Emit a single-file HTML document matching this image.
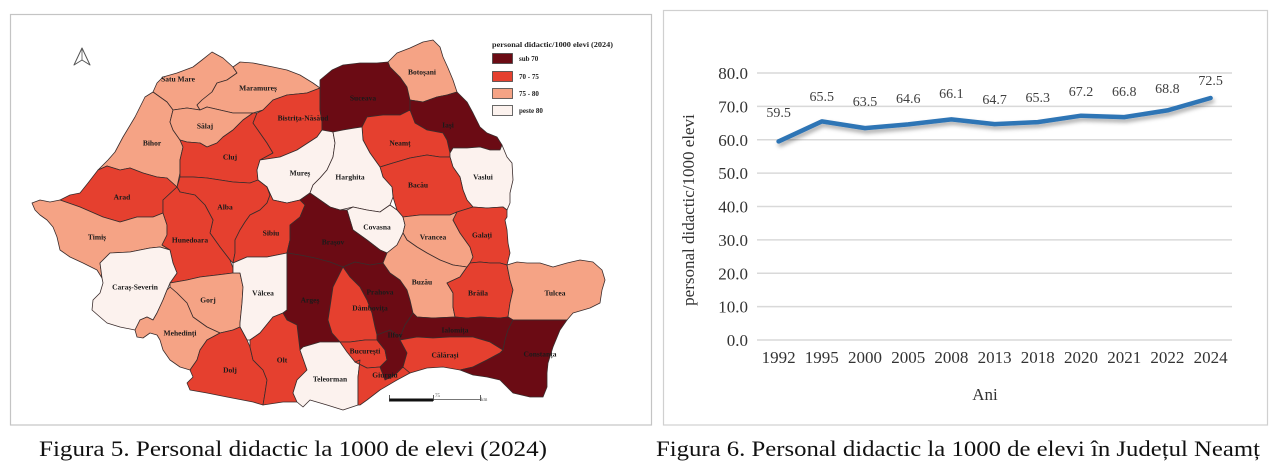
<!DOCTYPE html>
<html>
<head>
<meta charset="utf-8">
<style>
html,body{margin:0;padding:0;background:#fff;}
body{width:1280px;height:473px;overflow:hidden;}
svg{display:block;}
.m path,.m polygon{stroke:#3a2c2c;stroke-width:0.8;stroke-linejoin:round;}
.dk{fill:#6b0b14;}
.rd{fill:#e5402f;}
.sa{fill:#f5a385;}
.wh{fill:#fcf2ee;}
.lb{font-family:"Liberation Serif",serif;font-weight:bold;font-size:7.5px;fill:#1a1a1a;text-anchor:middle;}
.lg{font-family:"Liberation Serif",serif;font-weight:bold;font-size:7px;fill:#222;}
.ax{font-family:"Liberation Serif",serif;font-size:17px;fill:#333;}
.dl{font-family:"Liberation Serif",serif;font-size:14px;fill:#404040;text-anchor:middle;}
.cap{font-family:"Liberation Serif",serif;font-size:22px;fill:#111;}
</style>
</head>
<body>
<svg width="1280" height="473" viewBox="0 0 1280 473" xmlns="http://www.w3.org/2000/svg">
<defs>
<filter id="sh" x="-5%" y="-40%" width="110%" height="200%">
<feDropShadow dx="1.5" dy="3" stdDeviation="2" flood-color="#000" flood-opacity="0.35"/>
</filter>
</defs>
<rect x="0" y="0" width="1280" height="473" fill="#fff"/>

<!-- MAP FRAME -->
<rect x="10.5" y="14.5" width="641" height="410.5" fill="#fff" stroke="#c4c4c4" stroke-width="1.2"/>

<g class="m">
<polygon class="sa" points="153,92 157,83 163,77 177,73 193,67 202,60 212,52 223,58 233,67 237,73 227,80 217,83 212,92 202,100 197,105 200,110 187,108 173,110 167,102"/>
<polygon class="sa" points="233,67 240,62 253,63 273,67 287,70 300,75 313,83 320,88 307,93 287,95 273,100 263,110 253,113 247,113 233,113 220,110 207,107 200,110 197,105 202,100 212,92 217,83 227,80 237,73"/>
<polygon class="sa" points="153,92 167,102 173,110 170,122 173,130 180,140 183,147 180,160 180,173 177,187 167,178 157,177 143,173 130,168 120,170 107,166 98,170 108,160 115,152 123,137 135,117 145,97"/>
<polygon class="sa" points="173,110 187,108 200,110 207,107 220,110 233,113 247,113 253,113 243,120 233,130 223,137 217,143 207,147 200,143 187,142 180,140 173,130 170,122"/>
<polygon class="rd" points="180,140 187,142 200,143 207,147 217,143 223,137 233,130 243,120 253,113 257,113 253,123 260,133 267,143 273,153 260,160 257,170 258,180 250,183 233,182 220,180 207,178 193,177 180,177 180,173 180,160 183,147"/>
<polygon class="rd" points="257,113 263,110 273,100 287,95 307,93 320,88 320,100 320,110 322,122 322,130 317,137 297,150 280,157 260,160 273,153 267,143 260,133 253,123"/>
<polygon class="dk" points="320,80 332,70 343,65 360,63 377,63 388,62 390,67 400,77 407,87 410,100 410,110 400,115 383,115 367,117 362,127 355,128 343,130 333,132 322,130 322,122 320,110 320,100 320,88"/>
<polygon class="sa" points="388,62 397,53 410,48 423,42 433,40 440,47 443,57 448,68 453,80 457,92 447,95 437,97 423,102 410,100 407,87 400,77 390,67"/>
<polygon class="dk" points="410,100 423,102 437,97 447,95 457,92 467,102 473,113 480,127 487,133 497,137 502,145 500,150 490,150 480,147 467,148 453,148 450,153 447,140 443,133 427,130 415,123 410,110"/>
<polygon class="rd" points="367,117 383,115 400,115 410,110 415,123 427,130 443,133 447,140 450,153 450,157 440,157 427,155 410,158 393,163 380,167 370,153 363,140 362,127"/>
<polygon class="wh" points="450,153 453,148 467,148 480,147 490,150 500,150 502,145 507,157 512,163 513,180 510,193 510,203 507,210 503,207 487,208 473,207 467,200 463,190 460,177 453,167 450,157"/>
<polygon class="rd" points="380,167 393,163 410,158 427,155 440,157 450,157 453,167 460,177 463,190 467,200 473,207 457,212 450,215 435,215 420,215 403,217 397,210 393,197 392,187 383,177"/>
<polygon class="wh" points="260,160 280,157 297,150 317,137 322,130 333,132 335,143 333,157 327,170 320,178 313,185 310,193 300,200 287,203 273,200 267,187 258,180 257,170"/>
<polygon class="wh" points="333,132 343,130 355,128 362,127 363,140 370,153 380,167 383,177 392,187 393,197 390,205 380,212 367,210 353,207 340,210 330,207 320,200 310,193 313,185 320,178 327,170 333,157 335,143"/>
<polygon class="wh" points="347,210 353,207 367,210 380,212 390,205 397,210 403,217 405,225 403,233 397,245 387,253 380,250 367,240 353,230 350,220"/>
<polygon class="rd" points="60,200 70,195 80,193 88,183 98,170 107,166 120,170 130,168 143,173 157,177 167,178 177,187 163,200 163,213 153,217 137,217 120,222 103,217 80,207"/>
<polygon class="rd" points="177,187 180,177 193,177 207,178 220,180 233,182 250,183 258,180 267,187 270,195 267,203 260,210 250,215 245,222 240,230 235,240 235,253 233,263 230,260 220,247 210,233 213,220 205,205 195,195 180,192"/>
<polygon class="sa" points="32,203 40,200 50,202 60,200 80,207 103,217 120,222 137,217 153,217 163,213 167,225 167,235 162,245 170,250 160,247 150,248 130,252 110,253 100,263 102,278 97,270 83,263 70,257 60,250 57,237 53,227 47,220 40,215 35,210"/>
<polygon class="rd" points="163,200 177,187 180,192 195,195 205,205 213,220 210,233 220,247 230,260 233,268 233,273 217,275 200,277 187,280 170,283 177,273 173,263 170,250 162,245 167,235 167,225 163,213"/>
<polygon class="rd" points="267,187 273,200 287,203 300,200 305,205 300,217 290,225 290,240 287,253 267,257 247,257 233,263 235,253 235,240 240,230 245,222 250,215 260,210 267,203 270,195"/>
<polygon class="dk" points="300,200 310,193 320,200 330,207 340,210 347,210 350,220 353,230 367,240 380,250 387,253 383,263 370,265 355,262 343,267 330,262 315,258 300,255 287,253 290,240 290,225 300,217 305,205"/>
<polygon class="sa" points="403,217 420,215 435,215 450,215 457,212 453,220 460,233 470,247 473,257 470,263 467,267 453,265 440,260 427,253 417,247 407,240 403,233 405,225"/>
<polygon class="rd" points="457,212 473,207 487,208 503,207 507,210 507,217 505,220 507,230 508,243 510,253 507,265 500,263 490,263 480,262 470,263 473,257 470,247 460,233 453,220"/>
<polygon class="wh" points="102,278 100,263 110,253 130,252 150,248 160,247 170,250 173,263 177,273 170,283 167,290 163,300 157,313 153,320 147,317 140,320 135,330 120,327 107,323 100,317 92,310 93,300 100,293 103,283"/>
<polygon class="sa" points="170,283 187,280 200,277 217,275 233,273 240,273 243,287 242,303 240,323 240,327 233,330 220,333 207,327 193,317 187,303 177,293 170,287"/>
<polygon class="wh" points="233,263 247,257 267,257 287,253 287,287 287,310 283,313 273,317 260,333 250,340 247,340 240,327 240,323 242,303 243,287 240,273 233,273 233,268"/>
<polygon class="dk" points="287,253 300,255 315,258 330,262 343,267 333,287 330,307 328,320 332,333 340,342 337,342 320,342 303,347 300,350 297,325 287,320 283,313 287,310 287,287"/>
<polygon class="dk" points="343,267 355,262 370,265 383,263 390,273 400,280 407,290 410,300 413,313 405,325 400,337 390,330 377,335 375,327 372,313 367,300 360,287 350,277"/>
<polygon class="rd" points="343,267 350,277 360,287 367,300 372,313 375,327 377,335 377,340 365,340 350,342 340,342 332,333 328,320 330,307 333,287"/>
<polygon class="sa" points="387,253 397,245 403,233 407,240 417,247 427,253 440,260 453,265 467,267 460,277 447,283 453,293 453,307 455,317 433,318 417,317 413,313 410,300 407,290 400,280 390,273 383,263"/>
<polygon class="rd" points="467,267 470,263 480,262 490,263 500,263 507,265 510,280 513,290 510,303 508,317 500,318 480,317 467,318 455,317 453,307 453,293 447,283 460,277"/>
<polygon class="sa" points="507,265 517,262 527,263 540,263 553,267 567,263 580,260 593,262 602,270 605,280 602,290 600,303 590,308 573,313 567,320 553,320 540,320 527,320 513,320 508,317 510,303 513,290 510,280"/>
<polygon class="sa" points="167,290 170,287 177,293 187,303 193,317 207,327 220,333 207,340 200,350 197,360 190,370 180,367 170,360 163,350 160,340 157,335 150,333 143,338 137,337 135,330 140,320 147,317 153,320 157,313 163,300"/>
<polygon class="rd" points="207,340 220,333 233,330 240,327 247,340 250,347 253,360 263,370 267,380 265,393 263,405 253,402 227,397 207,393 190,390 187,383 193,377 190,370 197,360 200,350"/>
<polygon class="rd" points="250,340 260,333 273,317 283,313 287,320 297,325 300,350 307,370 297,380 293,393 297,402 283,402 263,405 265,393 267,380 263,370 253,360 250,347"/>
<polygon class="wh" points="303,347 320,342 337,342 340,342 347,345 350,350 360,360 358,377 358,405 343,410 327,405 310,400 303,407 297,402 293,393 297,380 307,370 300,350"/>
<polygon class="rd" points="340,342 350,342 365,340 377,340 385,350 387,360 380,367 367,368 355,362 347,352"/>
<polygon class="dk" points="377,335 390,330 400,337 407,353 403,367 395,375 385,380 380,367 387,360 385,350 377,340"/>
<polygon class="rd" points="355,362 367,368 380,367 385,380 395,375 403,367 410,373 397,380 380,390 367,400 360,405 358,405 358,377 360,360"/>
<polygon class="dk" points="413,313 417,317 433,318 455,317 467,318 480,317 500,318 508,317 513,320 508,330 505,340 503,350 490,342 473,337 450,337 433,338 417,337 400,340 400,337 405,325"/>
<polygon class="rd" points="400,340 417,337 433,338 450,337 473,337 490,342 503,350 500,353 487,360 473,367 460,370 443,367 427,368 410,373 403,367 407,353"/>
<polygon class="dk" points="513,320 527,320 540,320 553,320 567,320 560,330 553,347 548,363 547,373 547,387 543,397 530,397 513,393 507,387 500,380 487,377 473,375 460,370 473,367 487,360 500,353 503,350 505,340 508,330"/>
</g>

<!-- county labels -->
<g class="lb">
<text x="178" y="81.5">Satu Mare</text>
<text x="258" y="90.5">Maramureș</text>
<text x="205" y="128.5">Sălaj</text>
<text x="152" y="145.5">Bihor</text>
<text x="230" y="159.5">Cluj</text>
<text x="303" y="120.5">Bistrița-Năsăud</text>
<text x="300" y="175.5">Mureș</text>
<text x="122" y="199.5">Arad</text>
<text x="225" y="209.5">Alba</text>
<text x="422" y="74.5">Botoșani</text>
<text x="363" y="100.5">Suceava</text>
<text x="448" y="127.5">Iași</text>
<text x="400" y="145.5">Neamț</text>
<text x="350" y="179.5">Harghita</text>
<text x="418" y="187.5">Bacău</text>
<text x="483" y="179.5">Vaslui</text>
<text x="377" y="229.5">Covasna</text>
<text x="97" y="239.5">Timiș</text>
<text x="190" y="242.5">Hunedoara</text>
<text x="271" y="235.5">Sibiu</text>
<text x="135" y="289.5">Caraș-Severin</text>
<text x="208" y="302.5">Gorj</text>
<text x="263" y="295.5">Vâlcea</text>
<text x="310" y="302.5">Argeș</text>
<text x="180" y="335.5">Mehedinți</text>
<text x="230" y="372.5">Dolj</text>
<text x="282" y="362.5">Olt</text>
<text x="333" y="244.5">Brașov</text>
<text x="433" y="239.5">Vrancea</text>
<text x="482" y="237.5">Galați</text>
<text x="422" y="284.5">Buzău</text>
<text x="478" y="295.5">Brăila</text>
<text x="555" y="295.5">Tulcea</text>
<text x="380" y="294.5">Prahova</text>
<text x="370" y="310.5">Dâmbovița</text>
<text x="395" y="337.5">Ilfov</text>
<text x="455" y="332.5">Ialomița</text>
<text x="365" y="353.5">București</text>
<text x="445" y="357.5">Călărași</text>
<text x="540" y="356.5">Constanța</text>
<text x="330" y="381.5">Teleorman</text>
<text x="385" y="377.5">Giurgiu</text>
</g>

<!-- north arrow -->
<polygon points="82,48 90,65 82,60 74,65" fill="#fff" stroke="#555" stroke-width="1" stroke-linejoin="round"/>
<line x1="82" y1="49" x2="82" y2="60" stroke="#555" stroke-width="0.8"/>

<!-- legend -->
<text class="lg" x="492" y="47" textLength="121" lengthAdjust="spacingAndGlyphs">personal didactic/1000 elevi (2024)</text>
<rect x="492.5" y="53.5" width="20" height="10" fill="#6b0b14" stroke="#444" stroke-width="0.8"/>
<rect x="492.5" y="71.5" width="20" height="10" fill="#e5402f" stroke="#444" stroke-width="0.8"/>
<rect x="492.5" y="88.5" width="20" height="10" fill="#f5a385" stroke="#444" stroke-width="0.8"/>
<rect x="492.5" y="105.5" width="20" height="10" fill="#fcf2ee" stroke="#444" stroke-width="0.8"/>
<text class="lg" x="519" y="61">sub 70</text>
<text class="lg" x="519" y="79">70 - 75</text>
<text class="lg" x="519" y="96">75 - 80</text>
<text class="lg" x="519" y="113">peste 80</text>

<!-- scale bar -->
<rect x="389" y="398.5" width="44" height="3" fill="#111"/>
<line x1="433" y1="399.5" x2="480" y2="399.5" stroke="#777" stroke-width="1"/>
<line x1="389.5" y1="395" x2="389.5" y2="401" stroke="#333" stroke-width="0.8"/>
<line x1="433.5" y1="395" x2="433.5" y2="401" stroke="#333" stroke-width="0.8"/>
<line x1="480.5" y1="395" x2="480.5" y2="401" stroke="#333" stroke-width="0.8"/>
<text x="435" y="397" font-family="Liberation Serif, serif" font-size="5" fill="#555">75</text>
<text x="481" y="401" font-family="Liberation Serif, serif" font-size="5" fill="#555">km</text>

<!-- CHART FRAME -->
<rect x="663.5" y="10.5" width="604" height="414.5" fill="#fff" stroke="#d0d0d0" stroke-width="1.2"/>

<!-- gridlines -->
<g stroke="#d9d9d9" stroke-width="1.5">
<line x1="757" y1="73" x2="1232" y2="73"/>
<line x1="757" y1="106.4" x2="1232" y2="106.4"/>
<line x1="757" y1="139.8" x2="1232" y2="139.8"/>
<line x1="757" y1="173.1" x2="1232" y2="173.1"/>
<line x1="757" y1="206.5" x2="1232" y2="206.5"/>
<line x1="757" y1="239.9" x2="1232" y2="239.9"/>
<line x1="757" y1="273.3" x2="1232" y2="273.3"/>
<line x1="757" y1="306.6" x2="1232" y2="306.6"/>
<line x1="757" y1="340" x2="1232" y2="340"/>
</g>

<!-- y labels -->
<g class="ax" text-anchor="end">
<text x="748" y="79">80.0</text>
<text x="748" y="112.4">70.0</text>
<text x="748" y="145.8">60.0</text>
<text x="748" y="179.1">50.0</text>
<text x="748" y="212.5">40.0</text>
<text x="748" y="245.9">30.0</text>
<text x="748" y="279.3">20.0</text>
<text x="748" y="312.6">10.0</text>
<text x="748" y="346">0.0</text>
</g>

<!-- x labels -->
<g class="ax" text-anchor="middle">
<text x="778.6" y="363">1992</text>
<text x="821.8" y="363">1995</text>
<text x="865" y="363">2000</text>
<text x="908.2" y="363">2005</text>
<text x="951.4" y="363">2008</text>
<text x="994.6" y="363">2013</text>
<text x="1037.8" y="363">2018</text>
<text x="1081" y="363">2020</text>
<text x="1124.2" y="363">2021</text>
<text x="1167.4" y="363">2022</text>
<text x="1210.6" y="363">2024</text>
</g>

<!-- axis titles -->
<text class="ax" x="985" y="400" text-anchor="middle">Ani</text>
<text class="ax" transform="translate(694,210) rotate(-90)" text-anchor="middle">personal didactic/1000 elevi</text>

<!-- line -->
<polyline filter="url(#sh)" fill="none" stroke="#2f74b5" stroke-width="4.5" stroke-linejoin="round" stroke-linecap="round"
points="778.6,141.4 821.8,121.4 865,128.1 908.2,124.4 951.4,119.4 994.6,124.1 1037.8,122.1 1081,115.7 1124.2,117.1 1167.4,110.4 1210.6,98"/>

<!-- data labels -->
<g class="dl">
<text x="778.6" y="117">59.5</text>
<text x="821.8" y="101">65.5</text>
<text x="865" y="106">63.5</text>
<text x="908.2" y="103">64.6</text>
<text x="951.4" y="98">66.1</text>
<text x="994.6" y="104">64.7</text>
<text x="1037.8" y="102">65.3</text>
<text x="1081" y="96">67.2</text>
<text x="1124.2" y="96">66.8</text>
<text x="1167.4" y="93">68.8</text>
<text x="1210.6" y="85">72.5</text>
</g>

<!-- captions -->
<text class="cap" x="39" y="456" textLength="508" lengthAdjust="spacingAndGlyphs">Figura 5. Personal didactic la 1000 de elevi (2024)</text>
<text class="cap" x="656" y="456" textLength="604" lengthAdjust="spacingAndGlyphs">Figura 6. Personal didactic la 1000 de elevi în Județul Neamț</text>
</svg>
</body>
</html>
